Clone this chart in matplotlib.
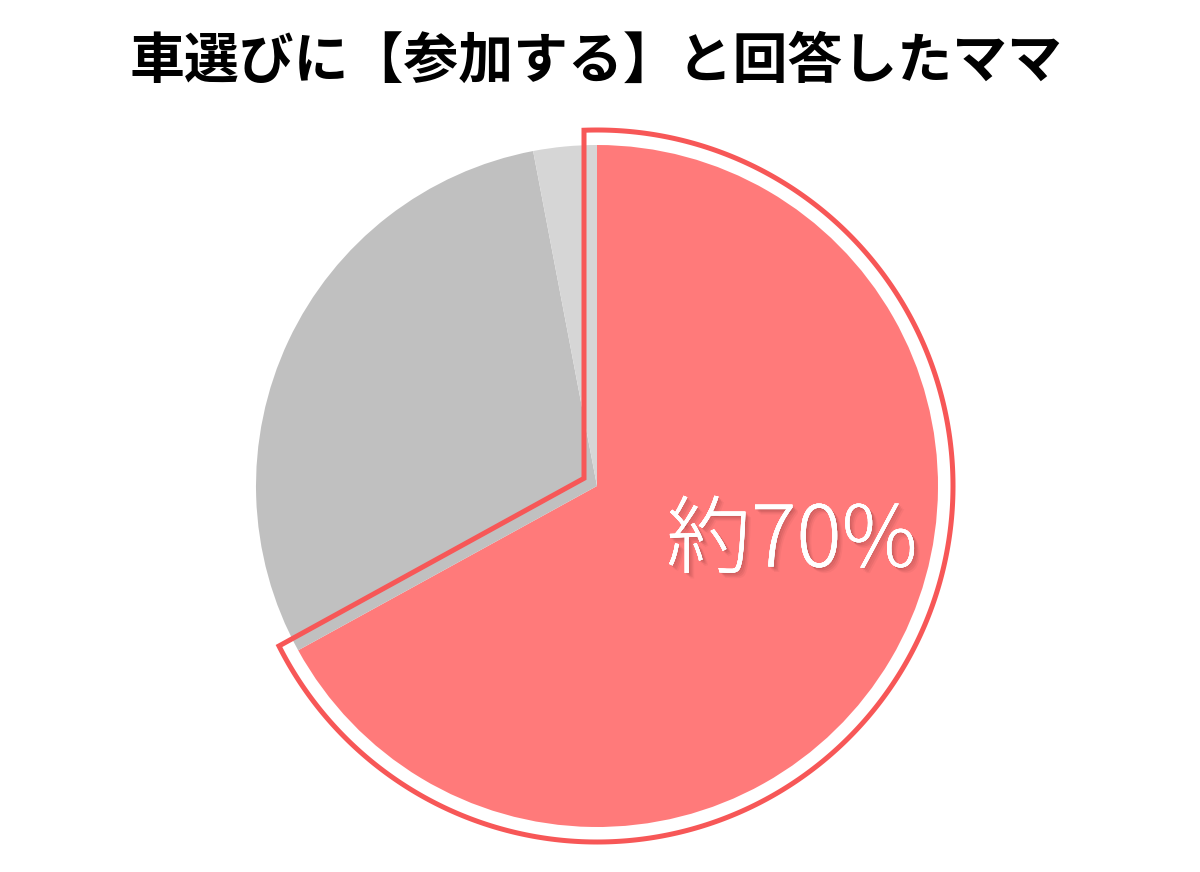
import numpy as np
import matplotlib
matplotlib.use("Agg")
import matplotlib.pyplot as plt
import matplotlib.patheffects as pe

plt.rcParams['font.family'] = ['Noto Sans CJK JP', 'DejaVu Sans']

# data
labels = ["参加する", "参加しない", "その他"]
values = [67, 30, 3]
colors = ["#FF7A7A", "#C0C0C0", "#D6D6D6"]
title = "車選びに【参加する】と回答したママ"
label_text = "約70%"

W, H, DPI = 1200, 872, 100
fig = plt.figure(figsize=(W / DPI, H / DPI), dpi=DPI)
ax = fig.add_axes([0, 0, 1, 1])

cx_px, cy_px, R_px = 597, 486, 341

wedges, _ = ax.pie(values, colors=colors, startangle=90, counterclock=False,
                   radius=1.0, center=(0, 0), frame=True,
                   wedgeprops=dict(linewidth=0))
ax.set_xlim(-cx_px / R_px, (W - cx_px) / R_px)
ax.set_ylim(-(H - cy_px) / R_px, cy_px / R_px)
ax.set_aspect('equal')
ax.axis('off')

# outline around the highlighted slice
red = wedges[0]
t1 = red.theta2  # start angle (90)
t2 = red.theta1  # end angle
w = 13 / R_px
Ro = 356 / R_px
a1, a2 = np.radians(t1), np.radians(t2)
u1 = np.array([np.cos(a1), np.sin(a1)])
u2 = np.array([np.cos(a2), np.sin(a2)])
n1 = np.array([np.cos(a1 + np.pi / 2), np.sin(a1 + np.pi / 2)])
n2 = np.array([np.cos(a2 - np.pi / 2), np.sin(a2 - np.pi / 2)])
apex = np.linalg.solve(np.vstack([n1, n2]), np.array([w, w]))
tt = np.sqrt(Ro ** 2 - w ** 2)
P1 = w * n1 + tt * u1
P2 = w * n2 + tt * u2
phi1 = np.arctan2(P1[1], P1[0])
phi2 = np.arctan2(P2[1], P2[0])
while phi2 > phi1:
    phi2 -= 2 * np.pi
arc = np.linspace(phi1, phi2, 400)
xs = np.concatenate([[apex[0]], Ro * np.cos(arc), [apex[0]]])
ys = np.concatenate([[apex[1]], Ro * np.sin(arc), [apex[1]]])
poly = plt.Polygon(np.column_stack([xs, ys]), closed=True, fill=False,
                   edgecolor="#F75757", linewidth=3.6, joinstyle='miter')
ax.add_patch(poly)

# label with soft shadow
shadow = []
for off, a in [((1, -1), 0.12), ((2, -2), 0.10), ((3, -3), 0.08), ((4, -4), 0.05)]:
    shadow.append(pe.withSimplePatchShadow(offset=off, shadow_rgbFace='#5a2020',
                                           alpha=a))
shadow.append(pe.Normal())
ax.text(0.572, -0.167, label_text, color="white", fontsize=61,
        fontweight='light', ha='center', va='center', path_effects=shadow)

fig.text(0.497, 1 - 61 / H, title, ha='center', va='center',
         fontsize=39.5, fontweight='bold', color='black')

fig.savefig("out.png", dpi=DPI)
